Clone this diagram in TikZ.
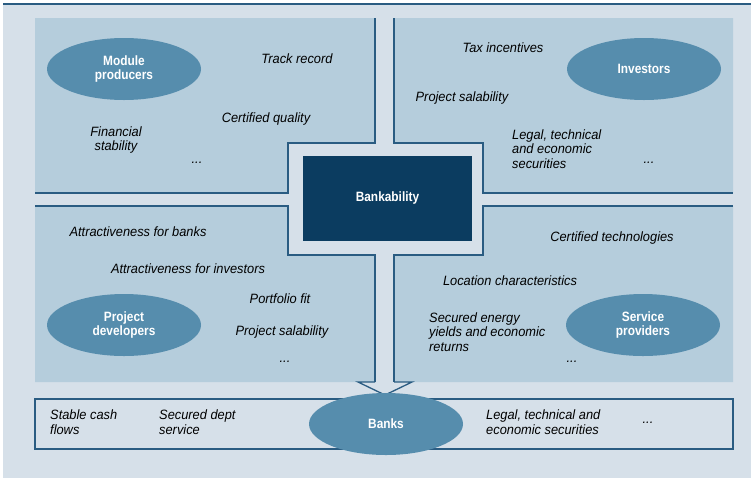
\documentclass[tikz,border=0pt]{standalone}
\usepackage{fontspec}
\newfontfamily\lblfont[FakeStretch=0.95]{Liberation Sans}
\newfontfamily\keyfont[FakeStretch=0.88]{Liberation Sans}
\definecolor{pagebg}{HTML}{D6E0E9}
\definecolor{panelbg}{HTML}{B5CDDC}
\definecolor{actorbg}{HTML}{568DAD}
\definecolor{corebg}{HTML}{0B3C60}
\definecolor{edgefg}{HTML}{2A5C82}
\usetikzlibrary{positioning}
\usetikzlibrary{shapes.geometric}

\begin{document}
\begin{tikzpicture}[x=1pt, y=-1pt,
    panel/.style = {fill=panelbg},
    edge/.style = {draw=edgefg, line width=1.3pt},
    actor/.style = {ellipse, fill=actorbg, text=white, align=center, inner sep=0pt, minimum width=154pt, minimum height=62pt, font={\keyfont\bfseries\fontsize{13.5}{14}\selectfont}},
    core/.style = {rectangle, fill=corebg, text=white, minimum width=169pt, minimum height=85pt, font={\keyfont\bfseries\fontsize{13.5}{14}\selectfont}},
    note/.style = {inner sep=0pt, text=black, font={\lblfont\itshape\fontsize{13.5}{14.5}\selectfont}},
    notel/.style = {note, align=left, anchor=west},
    notec/.style = {note, align=center}]

\useasboundingbox (0,0) rectangle (754,483);
\fill[pagebg] (3,4) rectangle (751,478);
\draw[draw=edgefg, line width=2.5pt] (3,4) -- (751,4);

% four panels round the centre
\fill[panel] (35,18) -- (375,18) -- (375,143) -- (288,143) -- (288,193) -- (35,193) -- cycle;
\fill[panel] (394,18) -- (733,18) -- (733,193) -- (483,193) -- (483,143) -- (394,143) -- cycle;
\fill[panel] (35,206) -- (288,206) -- (288,255) -- (375,255) -- (375,382) -- (35,382) -- cycle;
\fill[panel] (483,206) -- (733,206) -- (733,382) -- (394,382) -- (394,255) -- (483,255) -- cycle;

\draw[edge] (375,18) -- (375,143) -- (288,143) -- (288,193) -- (35,193);
\draw[edge] (394,18) -- (394,143) -- (483,143) -- (483,193) -- (733,193);
\draw[edge] (35,206) -- (288,206) -- (288,255) -- (375,255) -- (375,382);
\draw[edge] (394,382) -- (394,255) -- (483,255) -- (483,206) -- (733,206);

% arrow head down to the banks
\coordinate (tip) at (385,395);
\draw[edge, fill=pagebg] (375,382) -- (358,382) -- (tip) -- (412,382) -- (394,382);

\node[core] (bank) at (387.5,198.5) {Bankability};

% banks row
\draw[edge, fill=pagebg] (35,399) rectangle (733,449);
\node[actor] (banks) at (386,424) {Banks};
\node[notel] (cash) at (50,422) {Stable cash\\flows};
\node[notel] (dept) at (159,422) {Secured dept\\service};
\node[notel] (sec) at (486,422) {Legal, technical and\\economic securities};
\node[note] (bdots) at (648,423) {...};

% actors
\node[actor] (modp) at (124,69) {Module\\producers};
\node[actor] (inv) at (644,69) {Investors};
\node[actor] (projd) at (124,325) {Project\\developers};
\node[actor] (serv) at (643,325) {Service\\providers};

% module producers
\node[note] (track) at (297,59) {Track record};
\node[note] (qual) at (266,119) {Certified quality};
\node[notec] (fin) at (116,140) {Financial\\stability};
\node[note] (mdots) at (197,163) {...};

% investors
\node[note] (tax) at (503,48) {Tax incentives};
\node[note] (isal) at (462,98) {Project salability};
\node[notel] (legal) at (512,149) {Legal, technical\\and economic\\securities};
\node[note] (idots) at (649,163) {...};

% project developers
\node[note] (attb) at (138,232) {Attractiveness for banks};
\node[note] (atti) at (188,269) {Attractiveness for investors};
\node[note] (port) at (280,299) {Portfolio fit};
\node[note] (psal) at (282,332) {Project salability};
\node[note] (pdots) at (285,362) {...};

% service providers
\node[note] (tech) at (612,238) {Certified technologies};
\node[note] (loc) at (510,281) {Location characteristics};
\node[notel] (yield) at (429,332) {Secured energy\\yields and economic\\returns};
\node[note] (sdots) at (572,362) {...};

\end{tikzpicture}
\end{document}
